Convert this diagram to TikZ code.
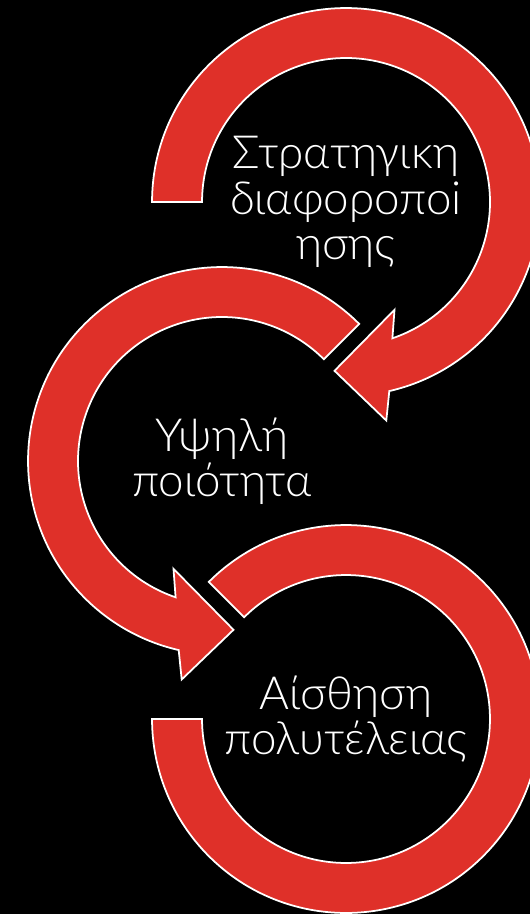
\documentclass[tikz,border=0pt]{standalone}
\usepackage{fontspec}
\newfontfamily\gfont{Lato Light}
\definecolor{arrred}{RGB}{223,48,41}
\begin{document}
\begin{tikzpicture}[x=0.02cm,y=0.02cm,
  arrowshape/.style={fill=arrred,draw=white,line width=1pt,line join=miter},
  label/.style={text=white,align=center,font=\gfont\fontsize{26}{25.8}\selectfont,inner sep=0pt}]
\def\ro{3.88cm}
\def\ri{2.88cm}
\fill[black] (0,0) rectangle (530,-914);
\useasboundingbox (0,0) rectangle (530,-914);
\clip (0,0) rectangle (530,-914);
\coordinate (c1) at (346,-202);
\coordinate (c2) at (222,-461);
\coordinate (c3) at (346,-719);
% top arrow
\path[arrowshape] ([shift={(180:\ro)}]c1) arc[start angle=180,end angle=-77.1,radius=\ro]
  -- ([shift={(40.3,-218.5)}]c1) -- ([shift={(-11.5,-168.8)}]c1) -- ([shift={(48.5,-107.8)}]c1)
  -- ([shift={(-71.2:\ri)}]c1) arc[start angle=-71.2,end angle=180,radius=\ri] -- cycle;
% middle arrow
\path[arrowshape] ([shift={(45:\ro)}]c2) arc[start angle=45,end angle=257.1,radius=\ro]
  -- ([shift={(-40.3,-218.5)}]c2) -- ([shift={(11.5,-168.8)}]c2) -- ([shift={(-48.5,-107.8)}]c2)
  -- ([shift={(251.2:\ri)}]c2) arc[start angle=251.2,end angle=45,radius=\ri] -- cycle;
% bottom arrow
\path[arrowshape] ([shift={(135:\ro)}]c3) arc[start angle=135,end angle=-180,radius=\ro]
  -- ([shift={(180:\ri)}]c3) arc[start angle=-180,end angle=135,radius=\ri] -- cycle;
\node[label] (t1) at (c1) {Στρατηγικη\\διαφοροποi\\ησης};
\node[label] (t2) at (c2) {Υψηλή\\ποιότητα};
\node[label] (t3) at (c3) {Αίσθηση\\πολυτέλειας};
\end{tikzpicture}
\end{document}
